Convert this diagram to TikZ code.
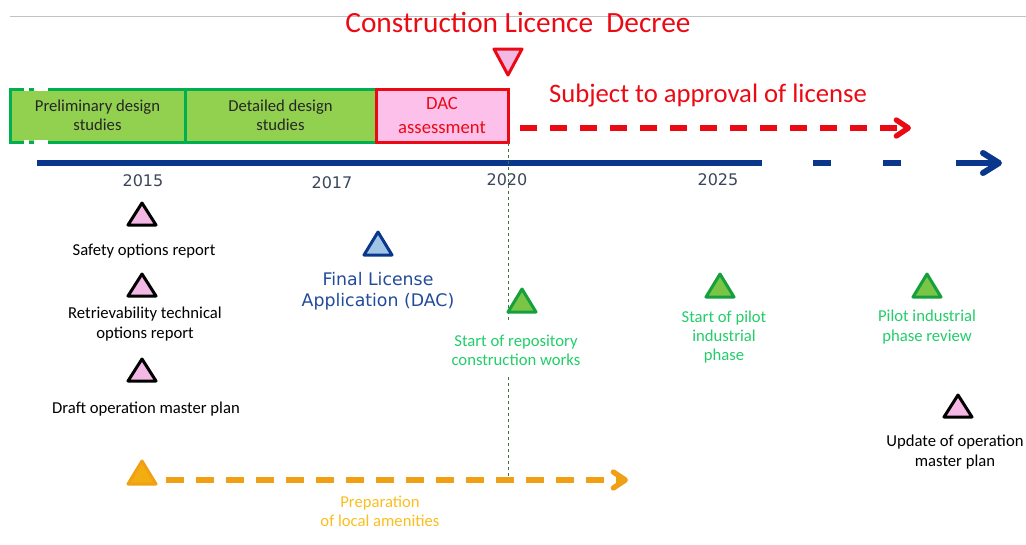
\documentclass[tikz,border=0pt]{standalone}
\usepackage{fontspec}
\setmainfont{Carlito}
\newfontfamily\dejavu{DejaVu Sans}
\usetikzlibrary{arrows.meta,positioning}
\definecolor{rulegray}{RGB}{195,195,195}
\definecolor{licred}{RGB}{235,10,20}
\definecolor{phgreen}{RGB}{0,176,80}
\definecolor{phfill}{RGB}{146,208,80}
\definecolor{dacpink}{RGB}{252,192,234}
\definecolor{tripink}{RGB}{244,184,228}
\definecolor{tlblue}{RGB}{10,55,140}
\definecolor{yeargray}{RGB}{60,70,90}
\definecolor{dacblue}{RGB}{35,75,155}
\definecolor{milegreen}{RGB}{35,205,105}
\definecolor{trigreen}{RGB}{122,196,70}
\definecolor{trigreenb}{RGB}{20,160,60}
\definecolor{triblue}{RGB}{160,196,230}
\definecolor{amber}{RGB}{240,160,20}
\definecolor{ambertext}{RGB}{250,190,30}
\definecolor{dotgreen}{RGB}{60,120,60}
\tikzset{>=stealth,
  phase/.style={draw=phgreen, fill=phfill, line width=2.25pt, minimum height=39.75pt,
    inner sep=0pt, outer sep=0pt, align=center, text=black!85,
    font=\fontsize{12.5}{14.25}\selectfont},
  dacbox/.style={phase, draw=licred, fill=dacpink, text=licred,
    font=\fontsize{14}{18}\selectfont},
  lbl/.style={align=center, inner sep=0pt, font=\fontsize{12.5}{14.5}\selectfont},
  yearlbl/.style={inner sep=0pt, text=yeargray, font=\dejavu\fontsize{12}{14}\selectfont},
  mile/.style={line width=2.25pt, line join=round},
  pinktri/.style={mile, draw=black, fill=tripink},
  greentri/.style={mile, draw=trigreenb, fill=trigreen},
  timeline/.style={tlblue, line width=4.5pt},
  pending/.style={licred, line width=4pt, dash pattern=on 12.75pt off 9.75pt},
  barb/.style={-{Straight Barb[length=9pt,width=12pt,round]}}
}

\begin{document}
\begin{tikzpicture}[x=0.75pt,y=-0.75pt]
\useasboundingbox (0,0) rectangle (1026,544);
\clip (0,0) rectangle (1026,544);
\draw[rulegray, line width=0.75pt] (10,16) -- (1026,16);
\node[licred, inner sep=0pt, font=\fontsize{22}{26}\selectfont] (decree) at (518,22) {Construction Licence\ \ Decree};
\draw[mile, draw=licred, fill=tripink] (494,49) -- (522,49) -- (508,75) -- cycle;
% phases
\node[phase, anchor=north west, minimum width=131.25pt] (prelim) at (10,89) {Preliminary design\\studies};
\node[phase, right=0pt of prelim, minimum width=143.25pt] (detail) {Detailed design\\studies};
\node[dacbox, right=0pt of detail, minimum width=99pt] (dac) {DAC\\assessment};
\foreach \y in {89,142} {
\draw[white, line width=3pt] (24,\y) -- (29,\y);
\draw[white, line width=3pt] (34,\y) -- (48,\y);
}
\node[licred, inner sep=0pt, font=\fontsize{20}{24}\selectfont] (subject) at (708,96) {Subject to approval of license};
\coordinate (L0) at (520,128);
\coordinate (L1) at (911,128);
\draw[pending, barb] (L0) -- (L1);
% time axis
\coordinate (T0) at (37,163);
\coordinate (T1) at (762,163);
\draw[timeline] (T0) -- (T1);
\foreach \a/\b in {813/831,883/901}
\draw[timeline] (\a,163) -- (\b,163);
\draw[timeline, -{Straight Barb[length=12pt,width=15pt,round]}] (956,163) -- (1002,163);
\node[yearlbl] (y15) at (143,181) {2015};
\node[yearlbl] (y17) at (332,183) {2017};
\node[yearlbl] (y20) at (507,180) {2020};
\node[yearlbl] (y25) at (718,180) {2025};
% 2020 marker
\coordinate (D0) at (508,143);
\coordinate (D1) at (508,323);
\coordinate (D2) at (508,377);
\coordinate (D3) at (508,480);
\draw[dotgreen, line width=0.75pt, dash pattern=on 2.25pt off 2.25pt] (D0) -- (D1) (D2) -- (D3);
% milestones
\foreach \x/\y in {142/225,142/296,142/381,958/417}
\draw[pinktri] (\x,\y) ++(-14,0) -- ++(14,-22) -- ++(14,22) -- cycle;
\foreach \x/\y in {522/312,720/297,927/297}
\draw[greentri] (\x,\y) ++(-14,0) -- ++(14,-23) -- ++(14,23) -- cycle;
\draw[mile, draw=tlblue, fill=triblue] (364,255) -- (378,232) -- (392,255) -- cycle;
\draw[mile, draw=amber, fill=amber!85!yellow] (128,484) -- (142,461) -- (156,484) -- cycle;
\node[lbl] (safety) at (144,251) {Safety options report};
\node[lbl] (retriev) at (145,324) {Retrievability technical\\options report};
\node[lbl] (draft) at (146,409) {Draft operation master plan};
\node[lbl, text=dacblue, font=\dejavu\fontsize{13}{15.75}\selectfont] (dacapp) at (378,291) {Final License\\Application (DAC)};
\node[lbl, text=milegreen] (constr) at (516,350) {Start of repository\\construction works};
\node[lbl, text=milegreen] (pilot) at (724,337) {Start of pilot\\industrial\\phase};
\node[lbl, text=milegreen] (review) at (927,327) {Pilot industrial\\phase review};
\node[lbl] (update) at (955,452) {Update of operation\\master plan};
% amenities
\coordinate (A0) at (166,480);
\coordinate (A1) at (628,480);
\draw[amber, line width=4pt, dash pattern=on 13.5pt off 9pt, barb] (A0) -- (A1);
\node[lbl, text=ambertext] (amen) at (380,511) {Preparation\\of local amenities};
\end{tikzpicture}
\end{document}
